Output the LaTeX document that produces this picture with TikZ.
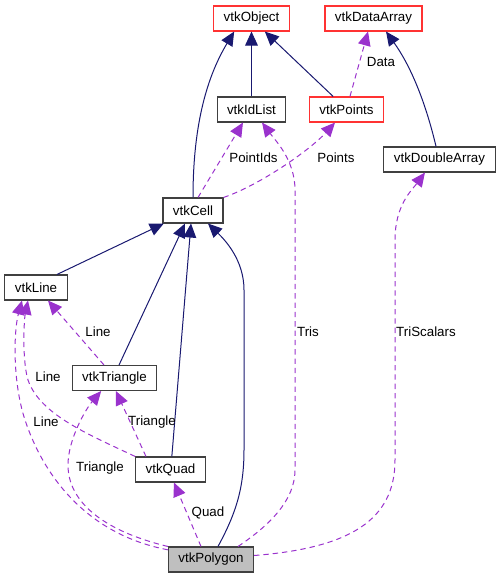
\documentclass[tikz,border=0pt]{standalone}
\usepackage{fontspec}
\setmainfont{Liberation Sans}
\usetikzlibrary{arrows.meta, positioning}

\definecolor{inhblue}{RGB}{25,25,112}
\definecolor{usepurple}{RGB}{154,50,205}
\definecolor{redframe}{RGB}{255,50,50}
\definecolor{grayframe}{RGB}{64,64,64}

\begin{document}
\begin{tikzpicture}[x=0.75pt,y=-0.75pt,font=\fontsize{10}{12}\selectfont]
  \tikzstyle{cls}=[draw=grayframe, line width=0.8pt, fill=white, minimum height=18.75pt, inner xsep=7.5pt, inner ysep=0pt]
  \tikzstyle{ext}=[cls, draw=redframe]
  \tikzstyle{inh}=[color=inhblue, line width=0.75pt, -{Triangle[length=10.5pt,width=9.5pt]}]
  \tikzstyle{use}=[color=usepurple, line width=0.75pt, dash pattern=on 4pt off 3pt, -{Triangle[length=10.5pt,width=9.5pt]}]
  \tikzstyle{lbl}=[inner sep=0pt]
  \useasboundingbox (0,0) rectangle (500,579);

  \node[ext] (obj) at (251.5,18.5) {vtkObject};
  \node[ext] (darray) at (373.5,18.5) {vtkDataArray};
  \node[cls] (idlist) at (251.5,109.5) {vtkIdList};
  \node[ext] (points) at (346.5,109.5) {vtkPoints};
  \node[cls] (dbl) at (439.5,159.5) {vtkDoubleArray};
  \node[cls] (cell) at (193,210.5) {vtkCell};
  \node[cls] (line) at (36,287.5) {vtkLine};
  \node[cls] (tri) at (114.5,378) {vtkTriangle};
  \node[cls] (quad) at (170.5,469.5) {vtkQuad};
  \node[cls, fill={rgb,255:red,191;green,191;blue,191}] (poly) at (211,559.5) {vtkPolygon};

  % inheritance
  \path
    (idlist) edge[inh] (obj)
    ([xshift=-10pt]points.north) edge[inh] ([xshift=10pt]obj.south)
    ([xshift=15.75pt]line.north) edge[inh] ([xshift=1pt]cell.south west)
    ([xshift=3.4pt]tri.north) edge[inh] ([xshift=-6pt]cell.south)
    ([xshift=1pt]quad.north) edge[inh] ([xshift=-1.5pt]cell.south)
    ;
  \draw[inh] (cell.north) .. controls (193,130) and (205,80) .. ([xshift=-13pt]obj.south);
  \draw[inh] ([xshift=-2.6pt]dbl.north) .. controls (425,100) and (410,65) .. ([xshift=9.4pt]darray.south);
  \draw[inh] ([xshift=5.25pt]poly.north) .. controls (235,515) and (244,490) .. (244,450)
    -- (244,290) .. controls (244,260) and (225,240) .. ([xshift=11.25pt]cell.south);

  % usage
  \path
    ([xshift=3.75pt]cell.north) edge[use] ([xshift=-6.4pt]idlist.south)
    ([xshift=2.6pt]points.north) edge[use] ([xshift=-4.1pt]darray.south)
    ([xshift=-7.5pt]poly.north) edge[use] ([xshift=2.6pt]quad.south)
    ([xshift=-7.9pt]tri.north) edge[use] ([xshift=9pt]line.south)
    ([xshift=-18.4pt]quad.north) edge[use] ([xshift=1.1pt]tri.south)
    ;
  \draw[use] (cell.north east) .. controls (260,185) and (310,150) .. ([xshift=-8.6pt]points.south);
  \draw[use] ([xshift=20.25pt]poly.north) .. controls (270,525) and (295,500) .. (295,470)
    -- (295,190) .. controls (295,160) and (275,140) .. ([xshift=7.9pt]idlist.south);
  \draw[use] ([yshift=3pt]poly.east) .. controls (350,548) and (395,520) .. (395,460)
    -- (395,240) .. controls (395,205) and (412,190) .. ([xshift=-10.9pt]dbl.south);
  \draw[use] (poly.north west) .. controls (100,530) and (68,500) .. (68,465)
    .. controls (68,440) and (85,410) .. ([xshift=-10pt]tri.south);
  \draw[use] ([yshift=-2.5pt]poly.north west) .. controls (90,535) and (45,480) .. (25,420)
    .. controls (12,380) and (14,330) .. ([xshift=-10.5pt]line.south);
  \draw[use] (quad.north west) .. controls (90,435) and (40,415) .. (28,380)
    .. controls (22,360) and (24,320) .. ([xshift=-6pt]line.south);

  \node[lbl] (lData) at (381,62) {Data};
  \node[lbl] (lPointIds) at (253.5,158) {PointIds};
  \node[lbl] (lPoints) at (336,158) {Points};
  \node[lbl] (lTriLine) at (98,332) {Line};
  \node[lbl] (lTris) at (308,332) {Tris};
  \node[lbl] (lTriScalars) at (426,332) {TriScalars};
  \node[lbl] (lQuadLine) at (48,377) {Line};
  \node[lbl] (lQuadTri) at (152,422) {Triangle};
  \node[lbl] (lPolyLine) at (46,422) {Line};
  \node[lbl] (lPolyTri) at (100,468) {Triangle};
  \node[lbl] (lQuad) at (208,513) {Quad};
\end{tikzpicture}
\end{document}
